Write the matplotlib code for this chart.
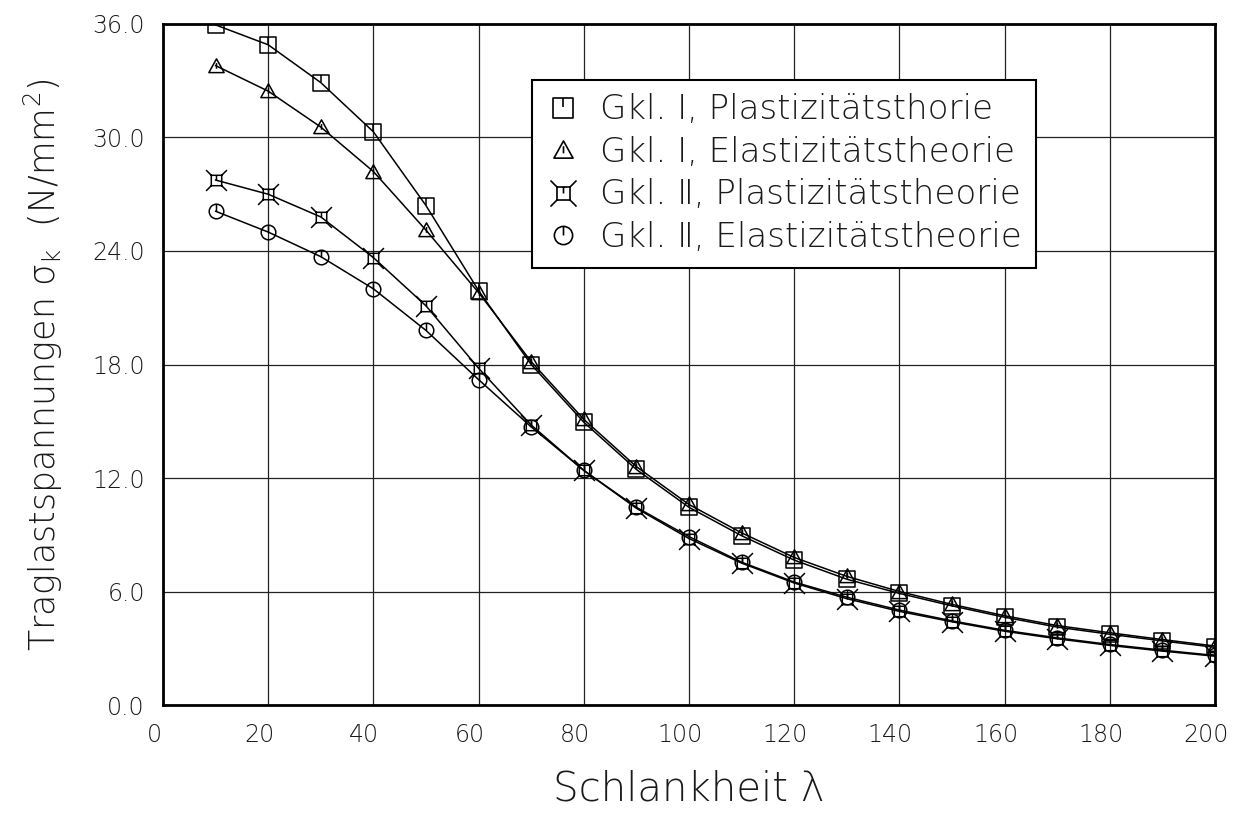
import matplotlib
matplotlib.use('Agg')
import matplotlib.pyplot as plt
import matplotlib.transforms as mtrans
from matplotlib.path import Path
from matplotlib.lines import Line2D

# Schlankheit (slenderness)
lam = [10, 20, 30, 40, 50, 60, 70, 80, 90, 100,
       110, 120, 130, 140, 150, 160, 170, 180, 190, 200]

# Traglastspannungen in N/mm^2
gkl1_plast = [35.95, 34.9, 32.9, 30.3, 26.4, 21.9, 18.0, 14.95, 12.45, 10.45,
              8.95, 7.66, 6.65, 5.9, 5.24, 4.64, 4.12, 3.74, 3.39, 3.05]
gkl1_elast = [33.8, 32.45, 30.55, 28.2, 25.1, 21.8, 18.15, 15.1, 12.6, 10.6,
              9.1, 7.8, 6.8, 6.0, 5.32, 4.72, 4.2, 3.82, 3.46, 3.12]
gkl2_plast = [27.75, 27.0, 25.8, 23.65, 21.1, 17.8, 14.8, 12.4, 10.4, 8.8,
              7.5, 6.45, 5.62, 4.95, 4.4, 3.9, 3.5, 3.15, 2.85, 2.58]
gkl2_elast = [26.1, 25.0, 23.7, 22.0, 19.8, 17.2, 14.7, 12.4, 10.45, 8.9,
              7.55, 6.5, 5.7, 5.02, 4.45, 3.95, 3.55, 3.2, 2.9, 2.62]

labels = ['Gkl. Ⅰ, Plastizitätsthorie',
          'Gkl. Ⅰ, Elastizitätstheorie',
          'Gkl. Ⅱ, Plastizitätstheorie',
          'Gkl. Ⅱ, Elastizitätstheorie']

xticks = [0, 20, 40, 60, 80, 100, 120, 140, 160, 180, 200]
yticks = [0, 6, 12, 18, 24, 30, 36]

M, L, C = Path.MOVETO, Path.LINETO, Path.CLOSEPOLY

# plotter-style markers with a small tick inside
sq_mark = Path([(-1, -1), (1, -1), (1, 1), (-1, 1), (-1, -1), (0, 1), (0, 0.1)],
               [M, L, L, L, C, M, L])
tri_mark = Path([(-1, -0.8), (1, -0.8), (0, 1), (-1, -0.8), (0, 0.45), (0, -0.3)],
                [M, L, L, C, M, L])
xsq_mark = Path([(-0.5, -0.5), (0.5, -0.5), (0.5, 0.5), (-0.5, 0.5), (-0.5, -0.5),
                 (-1, -1), (-0.5, -0.5), (1, 1), (0.5, 0.5),
                 (-1, 1), (-0.5, 0.5), (1, -1), (0.5, -0.5), (0, 0.5), (0, 0)],
                [M, L, L, L, C, M, L, M, L, M, L, M, L, M, L])
circ = Path.unit_circle()
circ_mark = Path(list(circ.vertices) + [(0, 1), (0, 0)],
                 list(circ.codes) + [M, L])

fam = ['DejaVu Sans']
wt = 'light'
ink = '#1a1a1a'

fig = plt.figure(figsize=(12.35, 8.27), dpi=100)
ax = fig.add_axes([0.132, 0.1475, 0.8518, 0.8235])

series = [(gkl1_plast, sq_mark, 11), (gkl1_elast, tri_mark, 11),
          (gkl2_plast, xsq_mark, 15), (gkl2_elast, circ_mark, 10.5)]
handles = []
for (vals, mk, ms), lab in zip(series, labels):
    ax.plot(lam, vals, color='black', lw=1.1, marker=mk, ms=ms,
            mfc='none', mec='black', mew=1.1, zorder=3)
    handles.append(Line2D([], [], ls='none', marker=mk, ms=ms * 1.25,
                          mfc='none', mec='black', mew=1.2, label=lab))

ax.set_xlim(0, 200)
ax.set_ylim(0, 36)
ax.set_xticks(xticks)
ax.set_yticks(yticks)
ax.set_yticklabels(['%.1f' % v for v in yticks])
ax.grid(True, color='#222222', lw=0.9)
ax.tick_params(length=0, labelsize=17, colors=ink, pad=13)
shift = mtrans.ScaledTranslation(-9 / 100, 0, fig.dpi_scale_trans)
for t in ax.get_xticklabels():
    t.set_transform(t.get_transform() + shift)
for t in ax.get_xticklabels() + ax.get_yticklabels():
    t.set_family(fam)
    t.set_fontweight(wt)
for s in ax.spines.values():
    s.set_linewidth(2.0)

ax.set_xlabel('Schlankheit λ', fontsize=29, family=fam, fontweight=wt,
              color=ink, labelpad=16)
ax.set_ylabel(r'Traglastspannungen σ$_\mathregular{k}$  (N/mm$^\mathregular{2}$)',
              fontsize=25, family=fam, fontweight=wt, color=ink, labelpad=20)

leg = ax.legend(handles=handles, loc='upper left', bbox_to_anchor=(0.351, 0.918),
                borderaxespad=0, frameon=True, fancybox=False, edgecolor='black',
                framealpha=1, handlelength=1.0, handletextpad=0.6, borderpad=0.4,
                labelspacing=0.28, prop={'family': fam, 'size': 24.5, 'weight': wt})
leg.get_frame().set_linewidth(1.5)
for t in leg.get_texts():
    t.set_color(ink)

fig.savefig('out.png', dpi=100)
